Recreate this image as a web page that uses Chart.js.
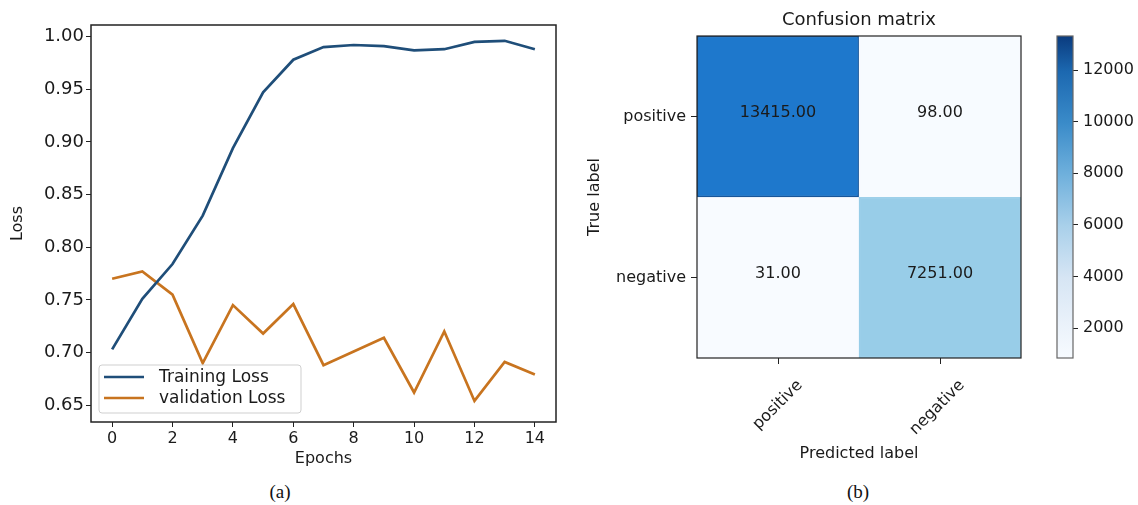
<!DOCTYPE html>
<html>
<head>
<meta charset="utf-8">
<script src="https://cdn.jsdelivr.net/npm/chart.js@4.4.0/dist/chart.umd.min.js"></script>
<style>
  body { margin: 0; background: #fff; width: 1138px; height: 505px; position: relative; overflow: hidden; }
  canvas { position: absolute; top: 0; }
  #lossChart { left: 0; }
  #matrixChart { left: 580px; }
  #colorbar { left: 1040px; }
  .caption { position: absolute; top: 481px; width: 40px; text-align: center; font-family: "Liberation Serif", serif; font-size: 19px; color: #111; }
</style>
</head>
<body>
<canvas id="lossChart" width="580" height="475"></canvas>
<canvas id="matrixChart" width="460" height="475"></canvas>
<canvas id="colorbar" width="98" height="475"></canvas>
<div class="caption" style="left:260px">(a)</div>
<div class="caption" style="left:838px">(b)</div>
<script>
// (a) training curves
const epochs = [0, 1, 2, 3, 4, 5, 6, 7, 8, 9, 10, 11, 12, 13, 14];
const trainingLoss = [0.703, 0.751, 0.784, 0.830, 0.894, 0.947, 0.978, 0.990, 0.992, 0.991, 0.987, 0.988, 0.995, 0.996, 0.988];
const validationLoss = [0.770, 0.777, 0.755, 0.690, 0.745, 0.718, 0.746, 0.688, 0.701, 0.714, 0.662, 0.720, 0.654, 0.691, 0.679];
const epochTicks = [0, 2, 4, 6, 8, 10, 12, 14];
const lossTicks = [0.65, 0.70, 0.75, 0.80, 0.85, 0.90, 0.95, 1.00];

// (b) confusion matrix
const trueLabels = ["positive", "negative"];
const predictedLabels = ["positive", "negative"];
const matrixValues = [[13415, 98], [31, 7251]];
const colorbarTicks = [2000, 4000, 6000, 8000, 10000, 12000];
const colorbarRange = [840, 13320];

const font = "DejaVu Sans";
const ink = "#1a1a1a";

// styling of the cells
const cellColors = [["#1e78cc", "#f7fbff"], ["#f8fbff", "#98cde8"]];
const cellBorders = [["#17569a", "#f7fbff"], ["#f8fbff", "#98cde8"]];
const blues = [
    [0.00, "#f7fbff"], [0.09, "#ecf3fb"], [0.25, "#d6e5f4"], [0.41, "#a9d0ea"],
    [0.57, "#6fb0dc"], [0.73, "#3a8bc9"], [0.89, "#1c68b0"], [1.00, "#0a3b7e"]
];

function frame(chart, color, width) {
    const a = chart.chartArea;
    const ctx = chart.ctx;
    ctx.save();
    ctx.strokeStyle = color;
    ctx.lineWidth = width;
    ctx.strokeRect(a.left, a.top, a.right - a.left, a.bottom - a.top);
    ctx.restore();
}

const lossExtras = {
    id: "lossExtras",
    afterDraw(chart) {
        frame(chart, "#222", 1.5);
        const { ctx, chartArea } = chart;
        const bx = chartArea.left + 8, by = chartArea.bottom - 57, bw = 202, bh = 48;
        ctx.save();
        ctx.beginPath();
        ctx.roundRect(bx, by, bw, bh, 3);
        ctx.fillStyle = "rgba(255,255,255,0.85)";
        ctx.fill();
        ctx.strokeStyle = "#cfcfcf";
        ctx.lineWidth = 1;
        ctx.stroke();
        chart.data.datasets.forEach((ds, i) => {
            const y = by + 12 + i * 21;
            ctx.beginPath();
            ctx.moveTo(bx + 5, y);
            ctx.lineTo(bx + 45, y);
            ctx.strokeStyle = ds.borderColor;
            ctx.lineWidth = 2.5;
            ctx.stroke();
            ctx.fillStyle = ink;
            ctx.font = "17px '" + font + "'";
            ctx.textBaseline = "middle";
            ctx.fillText(ds.label, bx + 60, y + 1);
        });
        ctx.restore();
    }
};

new Chart(document.getElementById("lossChart"), {
    type: "line",
    data: {
        datasets: [
            {
                label: "Training Loss",
                data: epochs.map((e, i) => ({ x: e, y: trainingLoss[i] })),
                borderColor: "#1f4e79",
                borderWidth: 2.7,
                pointRadius: 0,
                tension: 0
            },
            {
                label: "validation Loss",
                data: epochs.map((e, i) => ({ x: e, y: validationLoss[i] })),
                borderColor: "#c8741f",
                borderWidth: 2.7,
                pointRadius: 0,
                tension: 0
            }
        ]
    },
    options: {
        responsive: false,
        animation: false,
        layout: { padding: { top: 25, right: 24, left: 0, bottom: 0 } },
        plugins: { legend: { display: false }, tooltip: { enabled: false } },
        scales: {
            x: {
                type: "linear",
                min: -0.7,
                max: 14.7,
                afterBuildTicks: (s) => { s.ticks = epochTicks.map((v) => ({ value: v })); },
                afterFit: (s) => { s.height = 53; },
                grid: { drawOnChartArea: false, tickLength: 5, color: "#222" },
                border: { display: false },
                ticks: { font: { family: font, size: 16 }, color: ink, padding: 2, maxRotation: 0 },
                title: { display: true, text: "Epochs", font: { family: font, size: 16 }, color: ink, padding: { bottom: 7 } }
            },
            y: {
                min: 0.634,
                max: 1.011,
                afterBuildTicks: (s) => { s.ticks = lossTicks.map((v) => ({ value: v })); },
                afterFit: (s) => { s.width = 91; },
                grid: { drawOnChartArea: false, tickLength: 5, color: "#222" },
                border: { display: false },
                ticks: { font: { family: font, size: 18 }, color: ink, padding: 2, callback: (v) => v.toFixed(2) },
                title: { display: true, text: "Loss", font: { family: font, size: 16 }, color: ink, padding: { top: 8 } }
            }
        }
    },
    plugins: [lossExtras]
});

const n = trueLabels.length;

const matrixExtras = {
    id: "matrixExtras",
    afterDatasetsDraw(chart) {
        const { ctx, chartArea } = chart;
        ctx.save();
        ctx.fillStyle = ink;
        ctx.font = "16px '" + font + "'";
        ctx.textAlign = "center";
        ctx.textBaseline = "middle";
        chart.data.datasets.forEach((ds, r) => {
            chart.getDatasetMeta(r).data.forEach((bar, c) => {
                const p = bar.getCenterPoint();
                ctx.fillText(matrixValues[r][c].toFixed(2), p.x, p.y - 4);
            });
        });
        ctx.font = "18px '" + font + "'";
        ctx.textBaseline = "alphabetic";
        ctx.fillText("Confusion matrix", (chartArea.left + chartArea.right) / 2, 25);
        ctx.restore();
    },
    afterDraw(chart) {
        frame(chart, "#222", 1.2);
    }
};

new Chart(document.getElementById("matrixChart"), {
    type: "bar",
    data: {
        labels: predictedLabels,
        datasets: trueLabels.map((t, r) => ({
            label: t,
            data: predictedLabels.map(() => [n - 1 - r, n - r]),
            backgroundColor: cellColors[r],
            borderColor: cellBorders[r],
            borderWidth: 1.5,
            borderSkipped: false,
            grouped: false,
            barPercentage: 1,
            categoryPercentage: 1
        }))
    },
    options: {
        responsive: false,
        animation: false,
        layout: { padding: { top: 36, right: 19, left: 0, bottom: 0 } },
        plugins: { legend: { display: false }, tooltip: { enabled: false } },
        scales: {
            x: {
                afterFit: (s) => { s.height = 117; },
                grid: { drawOnChartArea: false, offset: false, tickLength: 6, color: "#222" },
                border: { display: false },
                ticks: { font: { family: font, size: 16 }, color: ink, minRotation: 45, maxRotation: 45, labelOffset: 22, padding: 12 },
                title: { display: true, text: "Predicted label", font: { family: font, size: 16 }, color: ink, padding: { bottom: 12 } }
            },
            y: {
                min: 0,
                max: n,
                afterBuildTicks: (s) => { s.ticks = trueLabels.map((t, r) => ({ value: n - 1 - r + 0.5 })); },
                afterFit: (s) => { s.width = 117; },
                grid: { drawOnChartArea: false, tickLength: 6, color: "#222" },
                border: { display: false },
                ticks: { font: { family: font, size: 16 }, color: ink, padding: 5, callback: (v) => trueLabels[n - 1 - Math.floor(v)] },
                title: { display: true, text: "True label", font: { family: font, size: 16 }, color: ink, padding: { top: 5 } }
            }
        }
    },
    plugins: [matrixExtras]
});

const flatValues = matrixValues.flat();

new Chart(document.getElementById("colorbar"), {
    type: "bar",
    data: {
        labels: [""],
        datasets: [{
            data: [[Math.min(...flatValues), Math.max(...flatValues)]],
            backgroundColor: (c) => {
                const a = c.chart.chartArea;
                if (!a) return "#fff";
                const g = c.chart.ctx.createLinearGradient(0, a.bottom, 0, a.top);
                blues.forEach(([f, col]) => g.addColorStop(f, col));
                return g;
            },
            borderWidth: 0,
            barPercentage: 1,
            categoryPercentage: 1
        }]
    },
    options: {
        responsive: false,
        animation: false,
        layout: { padding: { top: 36, right: 0, left: 17, bottom: 117 } },
        plugins: { legend: { display: false }, tooltip: { enabled: false } },
        scales: {
            x: { display: false },
            y: {
                position: "right",
                min: colorbarRange[0],
                max: colorbarRange[1],
                afterBuildTicks: (s) => { s.ticks = colorbarTicks.map((v) => ({ value: v })); },
                afterFit: (s) => { s.width = 65; },
                grid: { drawOnChartArea: false, tickLength: 5, color: "#222" },
                border: { display: false },
                ticks: { font: { family: font, size: 16 }, color: ink, padding: 5, callback: (v) => String(v) }
            }
        }
    },
    plugins: [{ id: "cbFrame", afterDraw: (chart) => frame(chart, "#666", 1.2) }]
});
</script>
</body>
</html>
